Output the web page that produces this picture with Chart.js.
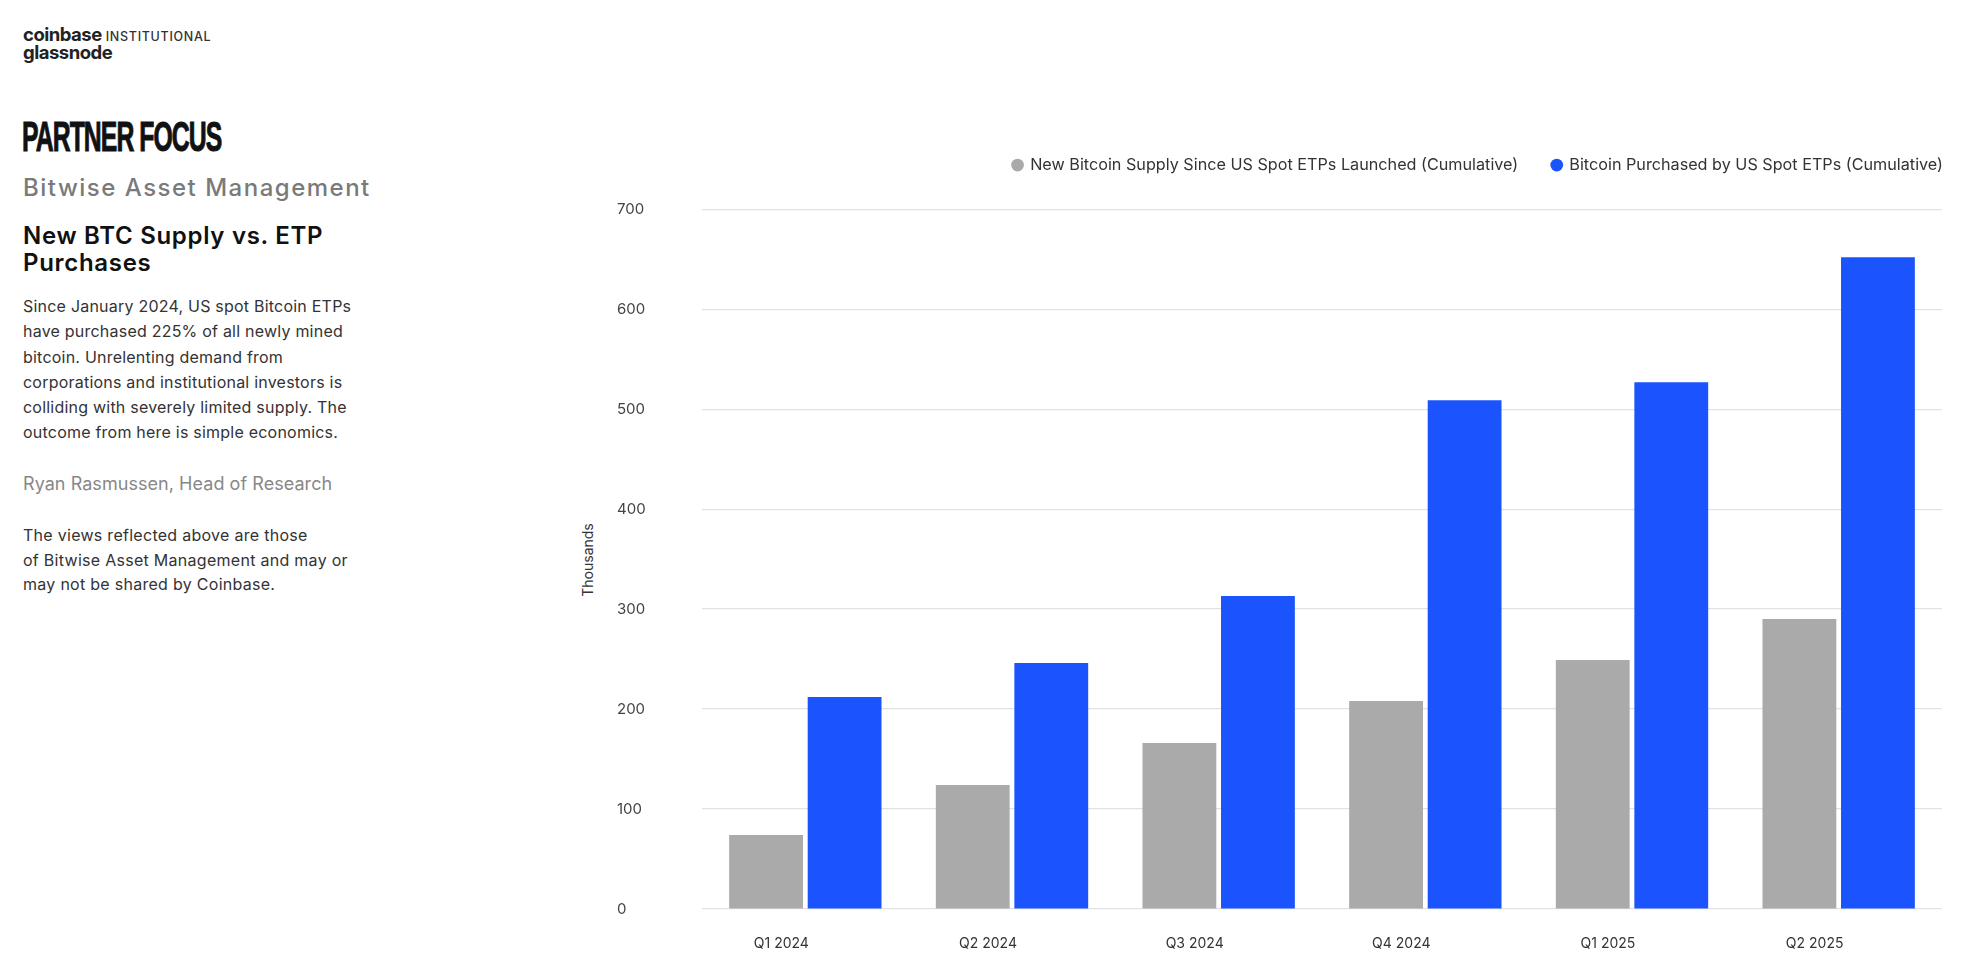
<!DOCTYPE html>
<html>
<head>
<meta charset="utf-8">
<script src="https://cdn.jsdelivr.net/npm/chart.js@4"></script>
<style>
  html, body { margin: 0; padding: 0; background: #ffffff; }
  body { width: 1984px; height: 972px; position: relative; overflow: hidden; font-family: Inter, "Open Sans", sans-serif; }
  .abs { position: absolute; white-space: nowrap; }
  #logo1 { left: 23px; top: 25px; font-size: 18.5px; line-height: 18px; font-weight: 700; color: #222; letter-spacing: -0.5px; }
  #logo1 span { font-size: 12.5px; font-weight: 500; letter-spacing: 0.7px; margin-left: 4px; color: #333; }
  #logo2 { left: 23px; top: 43px; font-size: 18.5px; line-height: 18px; font-weight: 700; color: #222; letter-spacing: -0.5px; }
  #partner { left: 22px; top: 113px; font-family: "Liberation Sans Narrow", "Liberation Sans", sans-serif; font-size: 42px; font-weight: 700; color: #111; letter-spacing: -1.6px; transform: scaleX(0.59); transform-origin: left top; -webkit-text-stroke: 1px #111; }
  #bitwise { left: 23px; top: 173px; font-size: 24px; font-weight: 500; color: #7a7a7a; letter-spacing: 1.5px; }
  #title { left: 23px; top: 222px; font-size: 24px; font-weight: 600; color: #111; line-height: 27px; letter-spacing: 0.7px; }
  #para { left: 23px; top: 294px; font-size: 16px; color: #333; line-height: 25.3px; letter-spacing: 0.22px; }
  #author { left: 23px; top: 473px; font-size: 18px; color: #888; letter-spacing: 0.05px; }
  #views { left: 23px; top: 523px; font-size: 16px; color: #333; line-height: 24.6px; letter-spacing: 0.28px; }
  #ytitle { left: 587px; top: 560px; font-size: 14px; color: #333; transform: translate(-50%, -50%) rotate(-90deg); }
  #chartBox { position: absolute; left: 600px; top: 0; width: 1384px; height: 972px; }
</style>
</head>
<body>
<div id="logo1" class="abs">coinbase<span>INSTITUTIONAL</span></div>
<div id="logo2" class="abs">glassnode</div>
<div id="partner" class="abs">PARTNER FOCUS</div>
<div id="bitwise" class="abs">Bitwise Asset Management</div>
<div id="title" class="abs">New BTC Supply vs. ETP<br>Purchases</div>
<div id="para" class="abs">Since January 2024, US spot Bitcoin ETPs<br>have purchased 225% of all newly mined<br>bitcoin. Unrelenting demand from<br>corporations and institutional investors is<br>colliding with severely limited supply. The<br>outcome from here is simple economics.</div>
<div id="author" class="abs">Ryan Rasmussen, Head of Research</div>
<div id="views" class="abs">The views reflected above are those<br>of Bitwise Asset Management and may or<br>may not be shared by Coinbase.</div>
<div id="ytitle" class="abs">Thousands</div>
<div id="chartBox"><canvas id="c"></canvas></div>
<script>
const categories = ["Q1 2024", "Q2 2024", "Q3 2024", "Q4 2024", "Q1 2025", "Q2 2025"];
const newSupply = [74, 124, 166, 208, 249, 290];
const etpPurchased = [212, 246, 313, 509, 527, 652];
const seriesNames = ["New Bitcoin Supply Since US Spot ETPs Launched (Cumulative)", "Bitcoin Purchased by US Spot ETPs (Cumulative)"];
const yTicks = [0, 100, 200, 300, 400, 500, 600, 700];

Chart.defaults.font.family = "Inter, 'Open Sans', sans-serif";

const legendGap = {
  id: 'legendGap',
  beforeInit(chart) {
    const origFit = chart.legend.fit;
    chart.legend.fit = function () {
      origFit.bind(chart.legend)();
      this.height += 26;
    };
  }
};

new Chart(document.getElementById('c'), {
  type: 'bar',
  plugins: [legendGap],
  data: {
    labels: categories,
    datasets: [
      { label: seriesNames[0], data: newSupply, backgroundColor: '#aaaaaa', categoryPercentage: 0.76, barPercentage: 0.94 },
      { label: seriesNames[1], data: etpPurchased, backgroundColor: '#1b53fd', categoryPercentage: 0.76, barPercentage: 0.94 }
    ]
  },
  options: {
    responsive: true,
    maintainAspectRatio: false,
    animation: false,
    layout: { padding: { left: 17, right: 7, top: 123, bottom: 0 } },
    plugins: {
      legend: {
        position: 'top',
        align: 'end',
        labels: {
          usePointStyle: true,
          pointStyle: 'circle',
          boxWidth: 9,
          boxHeight: 9,
          padding: 34,
          color: '#333',
          font: { size: 16.2 }
        }
      },
      tooltip: { enabled: false }
    },
    scales: {
      x: {
        grid: { display: false },
        border: { display: false },
        afterFit: (s) => { s.height = 63; },
        ticks: { color: '#333', font: { size: 14 }, padding: 18, labelOffset: -24, maxRotation: 0 }
      },
      y: {
        min: 0,
        max: 700,
        afterBuildTicks: (s) => { s.ticks = yTicks.map(v => ({ value: v })); },
        afterFit: (s) => { s.width = 85; },
        grid: { color: '#e2e2e2', lineWidth: 1.2, drawTicks: false },
        border: { display: false },
        ticks: { crossAlign: 'far', color: '#444', font: { size: 15 }, padding: 0 }
      },
      yRight: {
        type: 'linear',
        position: 'right',
        display: true,
        grid: { display: false, drawTicks: false },
        border: { display: false },
        ticks: { display: false },
        afterFit: (s) => { s.width = 35; }
      }
    }
  }
});
</script>
</body>
</html>
